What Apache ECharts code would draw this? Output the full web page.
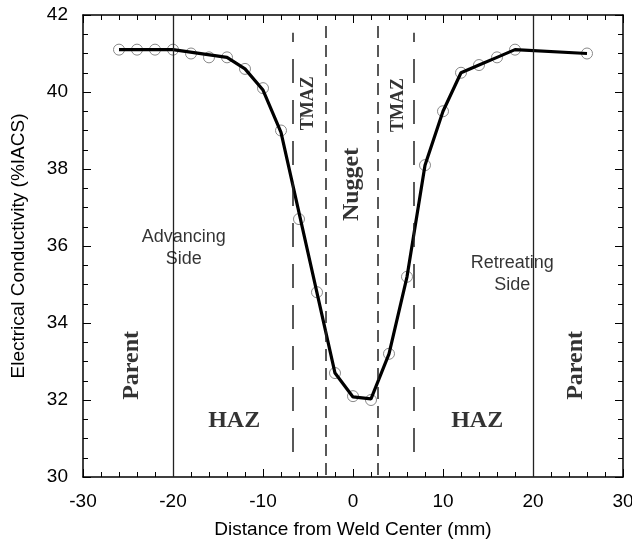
<!DOCTYPE html>
<html>
<head>
<meta charset="utf-8">
<script src="https://cdn.jsdelivr.net/npm/echarts@6/dist/echarts.min.js"></script>
<style>
  html, body { margin: 0; padding: 0; background: #fff; }
  #chart { width: 632px; height: 542px; }
</style>
</head>
<body>
<div id="chart"></div>
<script>
// measured points (circles)
const distance = [-26, -24, -22, -20, -18, -16, -14, -12, -10, -8, -6, -4, -2, 0, 2, 4, 6, 8, 10, 12, 14, 16, 18, 26];
const conductivity = [41.1, 41.1, 41.1, 41.1, 41.0, 40.9, 40.9, 40.6, 40.1, 39.0, 36.7, 34.8, 32.7, 32.1, 32.0, 33.2, 35.2, 38.1, 39.5, 40.5, 40.7, 40.9, 41.1, 41.0];

// thick fitted curve
const fitX = [-26, -20, -14, -12, -10, -8, -2, 0, 2, 4, 6, 8, 10, 12, 14, 16, 18, 26];
const fitY = [41.1, 41.1, 40.9, 40.6, 40.05, 38.95, 32.7, 32.08, 32.03, 33.2, 35.2, 38.1, 39.5, 40.5, 40.7, 40.9, 41.1, 41.0];

// zone boundaries (mm)
const parentHaz = [-20, 20];
const hazTmaz = [-6.7, 6.7];
const tmazNugget = [-3.05, 2.75];

const xTicks = [-30, -20, -10, 0, 10, 20, 30];
const yTicks = [30, 32, 34, 36, 38, 40, 42];

const serif = "'Liberation Serif', 'Times New Roman', serif";
const sans = "'Liberation Sans', Arial, sans-serif";

// zone labels: text, x, y, rotate, font
const zoneLabels = [
    ['Parent', -24.56, 32.9, 90, 'serif'],
    ['Parent', 24.8, 32.9, 90, 'serif'],
    ['HAZ', -13.2, 31.47, 0, 'serif'],
    ['HAZ', 13.8, 31.47, 0, 'serif'],
    ['TMAZ', -4.97, 39.71, 90, 'serifSmall'],
    ['TMAZ', 5.07, 39.66, 90, 'serifSmall'],
    ['Nugget', -0.1, 37.6, 90, 'serif'],
    ['Advancing\nSide', -18.8, 35.94, 0, 'sans'],
    ['Retreating\nSide', 17.7, 35.26, 0, 'sans'],
];

const fonts = {
    serif: {fontFamily: serif, fontWeight: 'bold', fontSize: 24},
    serifSmall: {fontFamily: serif, fontWeight: 'bold', fontSize: 18},
    sans: {fontFamily: sans, fontSize: 18, lineHeight: 22},
};

const chart = echarts.init(document.getElementById('chart'));

const vline = (xs, y0, y1, style) => xs.map(x => [
    {coord: [x, y0], lineStyle: style},
    {coord: [x, y1]},
]);

const axisCommon = {
    min: -30, max: 30, interval: 10,
    axisLine: {onZero: false, lineStyle: {color: '#000', width: 1.5}},
    axisTick: {inside: true, length: 8, lineStyle: {color: '#000', width: 1}},
    minorTick: {show: true, splitNumber: 5, length: 5, lineStyle: {color: '#000', width: 1}},
    splitLine: {show: false},
};

const yCommon = {
    min: 30, max: 42, interval: 2,
    axisLine: {show: true, onZero: false, lineStyle: {color: '#000', width: 1.5}},
    axisTick: {show: true, inside: true, length: 8, lineStyle: {color: '#000', width: 1}},
    minorTick: {show: true, splitNumber: 4, length: 5, lineStyle: {color: '#000', width: 1}},
    splitLine: {show: false},
};

const option = {
    animation: false,
    grid: {left: 83, right: 9, top: 15, bottom: 65, containLabel: false, outerBoundsMode: 'none'},
    xAxis: [
        Object.assign({}, axisCommon, {
            type: 'value', position: 'bottom',
            name: 'Distance from Weld Center (mm)',
            nameLocation: 'middle', nameGap: 43,
            nameTextStyle: {fontFamily: sans, fontSize: 19, color: '#000'},
            axisLabel: {
                margin: 15, fontFamily: sans, fontSize: 19, color: '#000',
                customValues: xTicks,
            },
        }),
        Object.assign({}, axisCommon, {
            type: 'value', position: 'top', axisLabel: {show: false},
        }),
    ],
    yAxis: [
        Object.assign({}, yCommon, {
            type: 'value', position: 'left',
            name: 'Electrical Conductivity (%IACS)',
            nameLocation: 'middle', nameGap: 55,
            nameTextStyle: {fontFamily: sans, fontSize: 19, color: '#000'},
            axisLabel: {margin: 15, fontFamily: sans, fontSize: 19, color: '#000', customValues: yTicks},
        }),
        Object.assign({}, yCommon, {
            type: 'value', position: 'right', axisLabel: {show: false},
        }),
    ],
    series: [
        {
            type: 'line',
            name: 'zones',
            data: [],
            markLine: {
                silent: true,
                symbol: 'none',
                label: {show: false},
                data: []
                    .concat(vline(parentHaz, 30, 42, {color: '#222', width: 1.3, type: 'solid'}))
                    .concat(vline(hazTmaz, 30.65, 41.54, {color: '#222', width: 1.5, type: [24, 17]}))
                    .concat(vline(tmazNugget, 30.05, 41.74, {color: '#222', width: 1.5, type: [12, 7]})),
            },
        },
        {
            type: 'line',
            name: 'measured',
            data: distance.map((d, i) => [d, conductivity[i]]),
            lineStyle: {width: 0, opacity: 0},
            symbol: 'circle',
            symbolSize: 11,
            itemStyle: {color: 'rgba(255,255,255,0)', borderColor: '#888', borderWidth: 1},
            z: 3,
        },
        {
            type: 'line',
            name: 'fit',
            data: fitX.map((d, i) => [d, fitY[i]]),
            showSymbol: false,
            lineStyle: {color: '#000', width: 3.2},
            z: 4,
        },
        {
            type: 'scatter',
            name: 'labels',
            symbolSize: 0,
            silent: true,
            data: zoneLabels.map(([text, x, y, rot, font]) => ({
                value: [x, y],
                label: Object.assign({
                    show: true, position: 'inside', formatter: text,
                    rotate: rot, color: '#000', align: 'center', verticalAlign: 'middle',
                }, fonts[font]),
            })),
            z: 5,
        },
    ],
};

chart.setOption(option);
</script>
</body>
</html>
